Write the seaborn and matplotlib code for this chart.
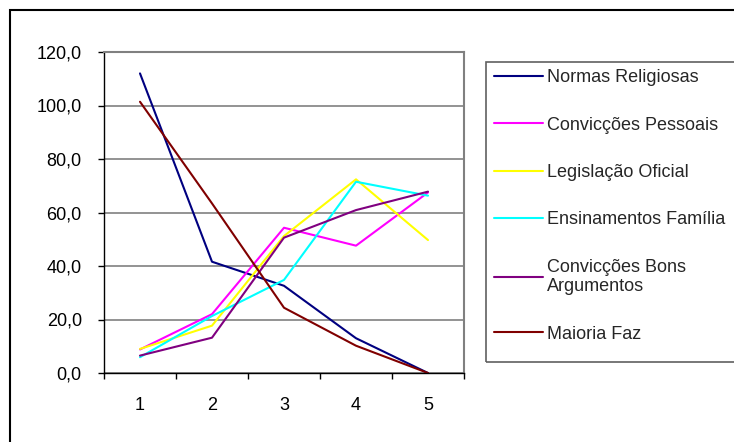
import matplotlib
matplotlib.use("Agg")
import matplotlib.pyplot as plt
import matplotlib.patches as mpatches
from matplotlib.ticker import FuncFormatter, FixedLocator
import seaborn as sns
import pandas as pd

# dados
x_vals = [1, 2, 3, 4, 5]
series_names = ["Normas Religiosas", "Convicções Pessoais", "Legislação Oficial",
                "Ensinamentos Família", "Convicções Bons\nArgumentos", "Maioria Faz"]
normas = [112.0, 41.6, 32.6, 13.0, 0.0]
pessoais = [8.8, 22.0, 54.3, 47.6, 67.5]
legislacao = [9.0, 17.7, 51.2, 72.4, 49.7]
familia = [5.9, 21.3, 34.8, 71.5, 66.3]
bons_arg = [6.5, 13.2, 50.6, 60.9, 67.8]
maioria = [101.4, 63.4, 24.4, 10.2, 0.0]
cores = ["#000080", "#FF00FF", "#FFFF00", "#00FFFF", "#800080", "#800000"]

valores = [normas, pessoais, legislacao, familia, bons_arg, maioria]
linhas = []
for nome, vals in zip(series_names, valores):
    for xv, yv in zip(x_vals, vals):
        linhas.append({"x": xv, "valor": yv, "serie": nome})
df = pd.DataFrame(linhas)

sns.set_style("white")
plt.rcParams["font.family"] = ["Liberation Sans", "DejaVu Sans"]
fs = 13

fig = plt.figure(figsize=(7.34, 4.42), dpi=100)
ax = fig.add_axes([104 / 734, 1 - 373 / 442, 360 / 734, 321 / 442])

sns.lineplot(data=df, x="x", y="valor", hue="serie", hue_order=series_names,
             palette=cores, sort=False, linewidth=1.5, ax=ax)
handles, labels = ax.get_legend_handles_labels()
ax.get_legend().remove()

ax.set_xlim(0.5, 5.5)
ax.set_ylim(0, 120)
ax.set_yticks([0, 20, 40, 60, 80, 100, 120])
ax.yaxis.set_major_formatter(FuncFormatter(lambda v, p: f"{v:.1f}".replace(".", ",")))
ax.set_xticks(x_vals)
ax.xaxis.set_minor_locator(FixedLocator([0.5, 1.5, 2.5, 3.5, 4.5, 5.5]))
ax.tick_params(axis="x", which="major", length=0, pad=17, labelsize=fs, colors="black")
ax.tick_params(axis="x", which="minor", length=4, width=1, direction="out", bottom=True, color="black")
ax.tick_params(axis="y", which="major", length=4, width=1, direction="out", left=True,
               pad=12, labelsize=fs, colors="black")
ax.set_xlabel("")
ax.set_ylabel("")

ax.grid(axis="y", color="#808080", linewidth=1.2)
ax.set_axisbelow(True)
for s in ["left", "bottom"]:
    ax.spines[s].set_color("black")
    ax.spines[s].set_linewidth(1)
for s in ["top", "right"]:
    ax.spines[s].set_color("#808080")
    ax.spines[s].set_linewidth(1.5)
ax.spines["bottom"].set_zorder(5)

leg = fig.legend(handles, labels, loc="upper left",
                 bbox_to_anchor=(489 / 734, 1 - 64 / 442), bbox_transform=fig.transFigure,
                 borderaxespad=0, frameon=False, fontsize=fs,
                 handlelength=2.7, handletextpad=0.2, labelspacing=1.68, borderpad=0.3)
for h in leg.get_lines():
    h.set_linewidth(1.5)

# moldura da legenda
moldura = mpatches.Rectangle((486 / 734, 1 - 362 / 442), 0.5, 300 / 442,
                             transform=fig.transFigure, fill=False,
                             edgecolor="#606060", linewidth=1.2)
fig.patches.append(moldura)

# borda externa do grafico
borda = mpatches.Rectangle((10 / 734, -0.2), 1.0, 1 - 10 / 442 + 0.2,
                           transform=fig.transFigure, fill=False,
                           edgecolor="black", linewidth=1.5)
fig.patches.append(borda)

fig.savefig("out.png", dpi=100)
